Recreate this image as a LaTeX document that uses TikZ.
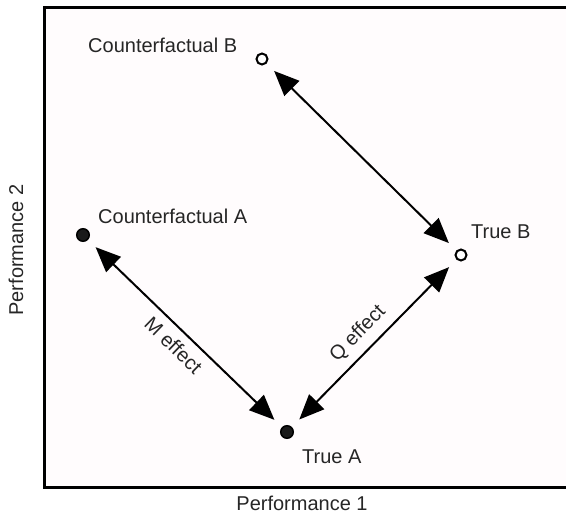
\documentclass[tikz,border=0pt]{standalone}
\usepackage{fontspec}
\setmainfont{Liberation Sans}
\usetikzlibrary{arrows.meta}
\definecolor{plotbg}{RGB}{255,252,253}
\definecolor{dotfill}{RGB}{26,26,26}
\begin{document}
\begin{tikzpicture}[x=1pt,y=-1pt,
  lbl/.style={font=\fontsize{20}{24}\selectfont, inner sep=0pt, text=black!85},
  opendot/.style={circle,draw=black,line width=2pt,fill=white,minimum size=11pt,inner sep=0pt},
  soliddot/.style={circle,draw=black,line width=1.5pt,fill=dotfill,minimum size=12.5pt,inner sep=0pt},
  dbl/.style={line width=2pt,{Triangle[length=25pt,width=21pt]}-{Triangle[length=25pt,width=21pt]},shorten <=10.5pt,shorten >=10.5pt},
]
\useasboundingbox (0,0) rectangle (566,516);
\fill[plotbg] (44,8) rectangle (566,487);
\draw[line width=3pt] (566,8) -- (44,8) -- (44,487) -- (566,487);

\node[opendot] (cb) at (262,59) {};
\node[soliddot] (ca) at (83,235) {};
\node[soliddot] (ta) at (287,432) {};
\node[opendot] (tb) at (461,255) {};

\node[lbl,anchor=west] (cbl) at (88,45) {Counterfactual B};
\node[lbl,anchor=west] (cal) at (98,216) {Counterfactual A};
\node[lbl,anchor=west] (tbl) at (471,232) {True B};
\node[lbl,anchor=west] (tal) at (302,457) {True A};

\draw[dbl] (cb) -- (tb);
\draw[dbl] (ca) -- (ta) node[lbl,midway,sloped,below=8pt] (ml) {M effect};
\draw[dbl] (ta) -- (tb) node[lbl,pos=0.48,sloped,above=8pt] (ql) {Q effect};

\node[lbl,rotate=90] (y) at (16,250) {Performance 2};
\node[lbl] (x) at (302,503) {Performance 1};
\end{tikzpicture}
\end{document}
